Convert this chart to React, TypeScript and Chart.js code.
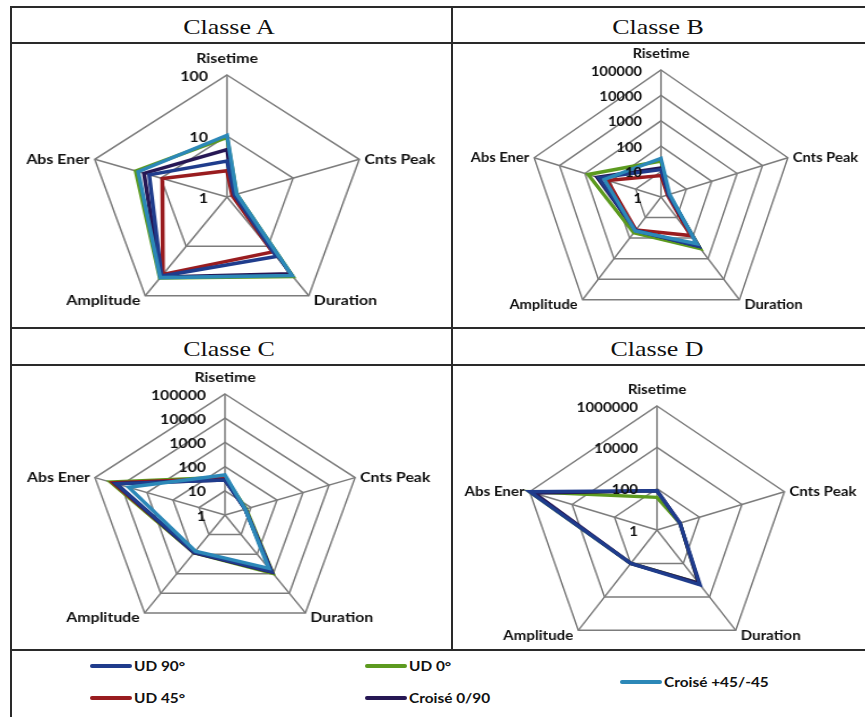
import React, { useEffect, useRef } from 'react';
import { Chart, registerables } from 'chart.js';

Chart.register(...registerables);

// Radar axes, clockwise from the top
const axisLabels = ['Risetime', 'Cnts Peak', 'Duration', 'Amplitude', 'Abs Ener'];

// Series (laminate layups)
const seriesNames = ['UD 90°', 'UD 45°', 'UD 0°', 'Croisé 0/90', 'Croisé +45/-45'];
const seriesColors = ['#1f3c8c', '#991c1f', '#5c9a1f', '#261754', '#2c88b8'];
// lower = painted later (on top)
const seriesOrder = [1, 3, 4, 2, 0];

// Classe A values: Risetime, Cnts Peak, Duration, Amplitude, Abs Ener
const classeAUd90 = [3.9, 1.3, 16, 40, 15];
const classeAUd45 = [2.7, 1.2, 13, 37, 9.5];
const classeAUd0 = [9.5, 1.4, 41, 44, 24];
const classeACroise090 = [6, 1.3, 36, 42, 18];
const classeACroise45 = [10.3, 1.4, 39, 43, 22];

// Classe B values
const classeBUd90 = [12, 2, 250, 42, 280];
const classeBUd45 = [7, 1.8, 75, 40, 130];
const classeBUd0 = [26, 2, 320, 55, 750];
const classeBCroise090 = [14, 2, 240, 42, 330];
const classeBCroise45 = [33, 2.2, 190, 45, 170];

// Classe C values
const classeCUd90 = [28, 6, 780, 80, 15000];
const classeCUd45 = [32, 6, 800, 80, 20000];
const classeCUd0 = [36, 6.5, 950, 85, 25000];
const classeCCroise090 = [28, 6, 800, 85, 16000];
const classeCCroise45 = [45, 6, 530, 70, 5000];

// Classe D values (only three layups recorded)
const classeDUd90 = [80, 12, 1900, 100, 1000000];
const classeDUd45: (number | null)[] = [null, null, null, null, null];
const classeDUd0 = [38, 12, 1500, 100, 1000000];
const classeDCroise090 = [80, 12, 1500, 100, 600000];
const classeDCroise45: (number | null)[] = [null, null, null, null, null];

// Log axis extent (powers of ten) and ring step for each class
const classeAMaxExp = 2;
const classeBMaxExp = 5;
const classeCMaxExp = 5;
const classeDMaxExp = 6;
const classeAStep = 1;
const classeBStep = 1;
const classeCStep = 1;
const classeDStep = 2;

type Layout = {
  left: number;
  top: number;
  width: number;
  height: number;
  cx: number;
  cy: number;
  radius: number;
  stretch: number;
};

const CANVAS_H = 300;
const GRID = '#7c7c7c';
const LABEL_FONT = 'bold 14px Lato';

function powerLabel(exp: number): string {
  return String(Math.round(Math.pow(10, exp)));
}

function makeTextPlugin(stretch: number) {
  return {
    id: 'radarText',
    afterDatasetsDraw(chart: any) {
      const r = chart.scales.r;
      const ctx = chart.ctx as CanvasRenderingContext2D;
      const R = r.drawingArea;
      const gap = 5 / stretch;
      ctx.save();
      ctx.fillStyle = '#111';
      ctx.font = LABEL_FONT;
      // value rings, to the left of the vertical axis
      ctx.textAlign = 'right';
      ctx.textBaseline = 'middle';
      r.ticks.forEach((t: any) => {
        const d = r.getDistanceFromCenterForValue(t.value);
        ctx.fillText(powerLabel(t.value), r.xCenter - 19 / stretch, r.yCenter - d + 1);
      });
      // axis names at the outer vertices
      chart.data.labels.forEach((lbl: string, i: number) => {
        const p = r.getPointPosition(i, R);
        const cos = (p.x - r.xCenter) / R;
        let x = p.x;
        let y = p.y;
        let align: CanvasTextAlign = 'center';
        if (Math.abs(cos) < 0.1) {
          y = p.y - 17;
        } else if (cos > 0) {
          align = 'left';
          x = p.x + gap;
        } else {
          align = 'right';
          x = p.x - gap;
        }
        if (p.y > r.yCenter + 5) y = p.y + 5;
        ctx.textAlign = align;
        ctx.fillText(lbl, x, y);
      });
      ctx.restore();
    },
  };
}

function RadarPanel(props: {
  series: (number | null)[][];
  maxExp: number;
  step: number;
  layout: Layout;
}) {
  const ref = useRef<HTMLCanvasElement | null>(null);
  const { series, maxExp, step, layout } = props;
  const cxl = layout.cx - layout.left;
  const cyl = layout.cy - layout.top;

  useEffect(() => {
    if (!ref.current) return;
    const R = layout.radius;
    const W = layout.width;
    const chart = new Chart(ref.current, {
      type: 'radar',
      data: {
        labels: axisLabels,
        datasets: series.map((vals, i) => ({
          label: seriesNames[i],
          data: vals.map((v) => (v == null ? null : Math.log10(v))) as any,
          borderColor: seriesColors[i],
          backgroundColor: 'rgba(0,0,0,0)',
          borderWidth: 3.5,
          pointRadius: 0,
          pointHoverRadius: 0,
          fill: false,
          order: seriesOrder[i],
        })),
      },
      options: {
        responsive: false,
        animation: false,
        devicePixelRatio: 1,
        events: [],
        layout: {
          padding: {
            left: cxl - R,
            right: W - cxl - R,
            top: cyl - R,
            bottom: CANVAS_H - cyl - R,
          },
        },
        plugins: {
          legend: { display: false },
          tooltip: { enabled: false },
        },
        scales: {
          r: {
            min: 0,
            max: maxExp,
            ticks: { display: false, stepSize: step },
            pointLabels: { display: false },
            grid: { color: GRID, lineWidth: 1.5 },
            angleLines: { color: GRID, lineWidth: 1.5 },
          },
        },
      } as any,
      plugins: [makeTextPlugin(layout.stretch)],
    });
    if ((document as any).fonts && (document as any).fonts.load) {
      (document as any).fonts.load(LABEL_FONT).then(() => chart.draw()).catch(() => {});
    }
    return () => chart.destroy();
  }, []);

  return (
    <div
      style={{
        position: 'absolute',
        left: layout.left,
        top: layout.top,
        width: layout.width,
        height: layout.height,
        overflow: 'hidden',
      }}
    >
      <canvas
        ref={ref}
        width={layout.width}
        height={CANVAS_H}
        style={{
          position: 'absolute',
          left: 0,
          top: 0,
          width: layout.width,
          height: CANVAS_H,
          transform: `scaleX(${layout.stretch})`,
          transformOrigin: `${cxl}px ${cyl}px`,
        }}
      />
    </div>
  );
}

const line = (left: number, top: number, width: number, height: number) => (
  <div
    style={{ position: 'absolute', left, top, width, height, background: '#2a2a2a' }}
  />
);

function Title(props: { text: string; cx: number; baseline: number }) {
  return (
    <div
      style={{
        position: 'absolute',
        left: props.cx - 100,
        top: props.baseline - 19,
        width: 200,
        textAlign: 'center',
        fontFamily: '"Liberation Serif", serif',
        fontSize: 22,
        lineHeight: '22px',
        color: '#111',
        transform: 'scaleX(1.18)',
        transformOrigin: 'center',
        whiteSpace: 'nowrap',
      }}
    >
      {props.text}
    </div>
  );
}

function LegendItem(props: { index: number; x: number; y: number }) {
  const { index, x, y } = props;
  return (
    <>
      <div
        style={{
          position: 'absolute',
          left: x,
          top: y - 2,
          width: 42,
          height: 4,
          borderRadius: 2,
          background: seriesColors[index],
        }}
      />
      <div
        style={{
          position: 'absolute',
          left: x + 44,
          top: y - 9,
          height: 18,
          lineHeight: '18px',
          fontFamily: 'Lato, sans-serif',
          fontWeight: 700,
          fontSize: 14,
          color: '#111',
          whiteSpace: 'nowrap',
          transform: 'scaleX(1.1)',
          transformOrigin: 'left center',
        }}
      >
        {seriesNames[index]}
      </div>
    </>
  );
}

export default function App() {
  const layoutA: Layout = { left: 12, top: 44, width: 439, height: 284, cx: 227, cy: 197, radius: 122, stretch: 1.14 };
  const layoutB: Layout = { left: 453, top: 44, width: 412, height: 284, cx: 661, cy: 197, radius: 127, stretch: 1.05 };
  const layoutC: Layout = { left: 12, top: 366, width: 439, height: 284, cx: 225, cy: 515, radius: 121, stretch: 1.13 };
  const layoutD: Layout = { left: 453, top: 366, width: 412, height: 284, cx: 657, cy: 530, radius: 124, stretch: 1.08 };

  return (
    <div
      style={{
        position: 'absolute',
        left: 0,
        top: 0,
        width: 865,
        height: 717,
        overflow: 'hidden',
        background: '#ffffff',
      }}
    >
      {/* table frame */}
      {line(10, 6, 860, 2)}
      {line(10, 6, 2, 720)}
      {line(451, 6, 2, 645)}
      {line(10, 42, 860, 2)}
      {line(10, 327, 860, 2)}
      {line(10, 364, 860, 2)}
      {line(10, 649, 860, 2)}

      <Title text="Classe A" cx={229} baseline={35} />
      <Title text="Classe B" cx={658} baseline={35} />
      <Title text="Classe C" cx={229} baseline={357} />
      <Title text="Classe D" cx={657} baseline={357} />

      <RadarPanel
        series={[classeAUd90, classeAUd45, classeAUd0, classeACroise090, classeACroise45]}
        maxExp={classeAMaxExp}
        step={classeAStep}
        layout={layoutA}
      />
      <RadarPanel
        series={[classeBUd90, classeBUd45, classeBUd0, classeBCroise090, classeBCroise45]}
        maxExp={classeBMaxExp}
        step={classeBStep}
        layout={layoutB}
      />
      <RadarPanel
        series={[classeCUd90, classeCUd45, classeCUd0, classeCCroise090, classeCCroise45]}
        maxExp={classeCMaxExp}
        step={classeCStep}
        layout={layoutC}
      />
      <RadarPanel
        series={[classeDUd90, classeDUd45, classeDUd0, classeDCroise090, classeDCroise45]}
        maxExp={classeDMaxExp}
        step={classeDStep}
        layout={layoutD}
      />

      {/* shared legend */}
      <LegendItem index={0} x={90} y={666} />
      <LegendItem index={1} x={90} y={698} />
      <LegendItem index={2} x={365} y={666} />
      <LegendItem index={3} x={365} y={698} />
      <LegendItem index={4} x={620} y={682} />
    </div>
  );
}
